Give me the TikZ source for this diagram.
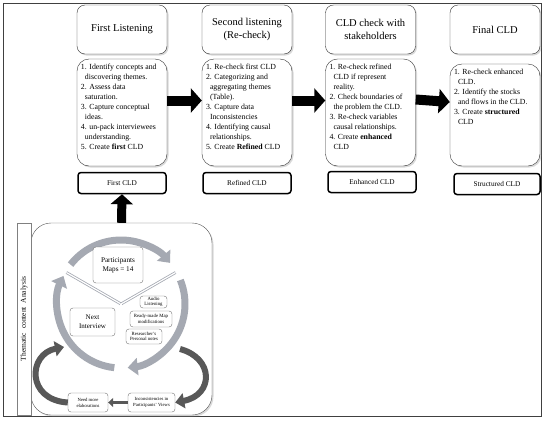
\documentclass[tikz,border=0pt]{standalone}
\usepackage{fontspec}
\setmainfont{Liberation Serif}
\usetikzlibrary{arrows.meta,shadows}
\definecolor{ringgray}{RGB}{165,169,178}
\definecolor{darkarr}{RGB}{88,88,88}
\newcommand{\indl}{\hspace*{4pt}}

\begin{document}
\begin{tikzpicture}[x=1pt,y=-1pt,
    shade/.style={drop shadow={shadow xshift=1.5pt,shadow yshift=-1.5pt,opacity=.3}},
    head/.style={draw=black!80,fill=white,rounded corners=8pt,minimum width=90pt,minimum height=49pt,align=center,font=\fontsize{10.5}{13}\selectfont,shade},
    body/.style={draw=black!80,fill=white,rounded corners=12pt,inner xsep=4pt,inner ysep=5pt,font=\fontsize{7.8}{10}\selectfont,shade},
    cld/.style={draw,line width=1.5pt,fill=white,rounded corners=3pt,minimum width=88pt,minimum height=21pt,font=\fontsize{7.3}{9}\selectfont},
    bigarrow/.style={line width=10pt,-{Triangle[width=24pt,length=11pt]}},
    panel/.style={draw=black!65,fill=white,rounded corners=20pt,minimum width=181pt,minimum height=192pt,shade},
    strip/.style={draw=black!50,fill=white,minimum width=192pt,minimum height=14pt,inner sep=0pt,font=\fontsize{7.5}{9}\selectfont},
    ring/.style={ringgray,line width=7pt,-{Triangle[width=17pt,length=10pt]}},
    spoke/.style={draw=ringgray,double=white,double distance=1.2pt,line width=0.8pt},
    mapbox/.style={draw=black!55,fill=white,rounded corners=3pt,align=center,inner sep=1pt},
    darkarrow/.style={darkarr,line width=6pt,-{Triangle[width=15pt,length=9pt]}}
  ]
  \useasboundingbox (0,0) rectangle (550,426);
  \draw[black!75] (3,3) rectangle (541,416);

  \node[head] (h1) at (122,29.5) {First Listening};
  \node[head] (h2) at (247,29.5) {Second listening\\(Re-check)};
  \node[head] (h3) at (370.5,29.5) {CLD check with\\stakeholders};
  \node[head] (h4) at (495,29.5) {Final CLD};

  \node[body] (b1) at (122,112.5) {\parbox[c][97pt][t]{82pt}{\raggedright
    1. Identify concepts and\\\indl discovering themes.\\
    2. Assess data\\\indl saturation.\\
    3. Capture conceptual\\\indl ideas.\\
    4. un-pack interviewees\\\indl understanding.\\
    5. Create \textbf{first} CLD}};
  \node[body] (b2) at (247,112.5) {\parbox[c][97pt][t]{82pt}{\raggedright
    1. Re-check first CLD\\
    2. Categorizing and\\\indl aggregating themes\\\indl (Table).\\
    3. Capture data\\\indl Inconsistencies\\
    4. Identifying causal\\\indl relationships.\\
    5. Create \textbf{Refined} CLD}};
  \node[body] (b3) at (370.5,112.5) {\parbox[c][97pt][t]{82pt}{\raggedright
    1. Re-check refined\\\indl CLD if represent\\\indl reality.\\
    2. Check boundaries of\\\indl the problem the CLD.\\
    3. Re-check variables\\\indl causal relationships.\\
    4. Create \textbf{enhanced}\\\indl CLD}};
  \node[body] (b4) at (495,115) {\parbox[c][92pt][t]{82pt}{\raggedright
    1. Re-check enhanced\\\indl CLD.\\
    2. Identify the stocks\\\indl and flows in the CLD.\\
    3. Create \textbf{structured}\\\indl CLD}};

  \node[cld] (c1) at (122,183) {First CLD};
  \node[cld] (c2) at (247,183) {Refined CLD};
  \node[cld] (c3) at (372,182) {Enhanced CLD};
  \node[cld,minimum width=86pt] (c4) at (497,184) {Structured CLD};

  \draw[bigarrow] ([yshift=12pt]b1.east) -- ([yshift=12pt]b2.west);
  \draw[bigarrow] ([yshift=12pt]b2.east) -- ([yshift=12pt]b3.west);
  \draw[bigarrow] ([yshift=13pt]b3.east) -- ([yshift=13pt]b4.west);

  \node[panel] (panel) at (121.5,319) {};
  \node[strip,rotate=90] (strip) at (24,319) {Thematic \ content \ Analysis};
  \draw[line width=9pt,-{Triangle[width=22pt,length=10pt]}] (panel.north) -- (c1.south);

  \coordinate (hub) at (121,304);
  \draw[spoke] (hub) -- ([shift={(-150:63)}]hub);
  \draw[spoke] (hub) -- ([shift={(-30:63)}]hub);
  \draw[spoke] (hub) -- ([shift={(90:63)}]hub);
  \draw[ring] ([shift={(-142:64)}]hub) arc[start angle=-142,end angle=-40,radius=64];
  \draw[ring] ([shift={(-22:64)}]hub) arc[start angle=-22,end angle=84,radius=64];
  \draw[ring] ([shift={(96:64)}]hub) arc[start angle=96,end angle=206,radius=64];

  \node[mapbox,minimum width=50pt,minimum height=36pt,font=\fontsize{7.2}{9}\selectfont] (maps) at (118,265) {Participants\\Maps = 14};
  \node[mapbox,minimum width=45pt,minimum height=28pt,font=\fontsize{7}{9}\selectfont] (next) at (92.5,322) {Next\\Interview};
  \node[mapbox,minimum width=27pt,minimum height=12pt,font=\fontsize{4.8}{5.5}\selectfont] (audio) at (153.5,302) {Audio\\Listening};
  \node[mapbox,minimum width=42pt,minimum height=16pt,font=\fontsize{4.8}{5.5}\selectfont] (ready) at (151,319) {Ready-made Map\\modifications};
  \node[mapbox,minimum width=36pt,minimum height=15pt,font=\fontsize{4.8}{5.5}\selectfont] (notes) at (144,336.5) {Researcher's\\Personal notes};
  \node[mapbox,minimum width=40pt,minimum height=19pt,font=\fontsize{4.7}{6}\selectfont] (need) at (88,402.5) {Need more\\elaborations};
  \node[mapbox,minimum width=47pt,minimum height=19pt,font=\fontsize{4.7}{6}\selectfont] (incon) at (151.5,402.5) {Inconsistencies in\\Participants' Views};

  \coordinate (rs) at (180,349);
  \coordinate (ls) at (64,347);
  \draw[darkarrow] (rs) .. controls (214,358) and (214,395) .. (incon.east);
  \draw[darkarrow] (need.west) .. controls (26,400) and (28,354) .. (ls);
  \draw[darkarr,line width=3.5pt,-{Triangle[width=9pt,length=5pt]}] (incon.west) -- (need.east);
\end{tikzpicture}
\end{document}
